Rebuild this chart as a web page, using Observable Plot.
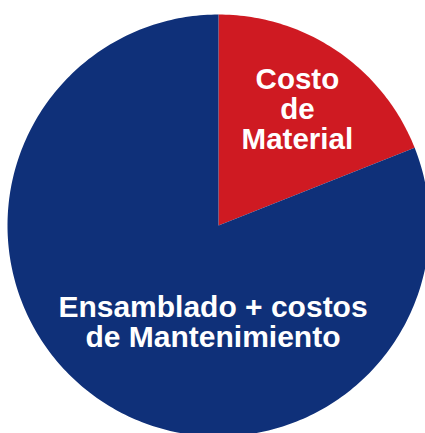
<!DOCTYPE html>
<html>
<head>
<meta charset="utf-8">
<script src="https://cdn.jsdelivr.net/npm/d3@7"></script>
<script src="https://cdn.jsdelivr.net/npm/@observablehq/plot@0.6"></script>
<style>
  html, body { margin: 0; padding: 0; background: #fff; }
</style>
</head>
<body>
<div id="chart"></div>
<script>
const categories = ["Costo\nde\nMaterial", "Ensamblado + costos\nde Mantenimiento"];
const values = [19, 81];
const colors = ["#cf1a22", "#0f3079"];

const pie = d3.pie().sort(null).value(d => d.value);
const arcs = pie(categories.map((c, i) => ({name: c, value: values[i], color: colors[i]})));

// polygon vertices of each slice in unit-circle coordinates (y up, angle clockwise from north)
const poly = [];
arcs.forEach((a) => {
  poly.push({name: a.data.name, color: a.data.color, x: 0, y: 0});
  const steps = Math.max(2, Math.ceil((a.endAngle - a.startAngle) / (Math.PI / 180)));
  for (let k = 0; k <= steps; k++) {
    const t = a.startAngle + (a.endAngle - a.startAngle) * k / steps;
    poly.push({name: a.data.name, color: a.data.color, x: Math.sin(t), y: Math.cos(t)});
  }
  poly.push({name: a.data.name, color: a.data.color, x: 0, y: 0});
});

// label anchors
const a0 = arcs[0];
const t0 = (a0.startAngle + a0.endAngle) / 2;
const label0 = [{name: a0.data.name, x: Math.sin(t0) * 0.665, y: Math.cos(t0) * 0.665}];
const label1 = [{name: arcs[1].data.name, x: 0, y: -0.46}];

const W = 425, H = 433, R = 211, CX = 218, CY = 225;
const font = "'Liberation Sans', Arial, Helvetica, sans-serif";
const chart = Plot.plot({
  width: W,
  height: H,
  margin: 0,
  style: {background: "#fff"},
  x: {domain: [-CX / R, (W - CX) / R], axis: null},
  y: {domain: [-(H - CY) / R, CY / R], axis: null},
  marks: [
    Plot.line(poly, {x: "x", y: "y", z: "name", fill: "color", stroke: "none", curve: "linear"}),
    Plot.text(label0, {
      x: "x", y: "y", text: "name",
      fill: "#fff", fontSize: 29.5, fontWeight: "bold", fontFamily: font,
      lineHeight: 1.02, lineAnchor: "middle", textAnchor: "middle"
    }),
    Plot.text(label1, {
      x: "x", y: "y", dx: -5.5, text: "name",
      fill: "#fff", fontSize: 30, fontWeight: "bold", fontFamily: font,
      lineHeight: 0.98, lineAnchor: "middle", textAnchor: "middle"
    })
  ]
});
document.getElementById("chart").appendChild(chart);
</script>
</body>
</html>
